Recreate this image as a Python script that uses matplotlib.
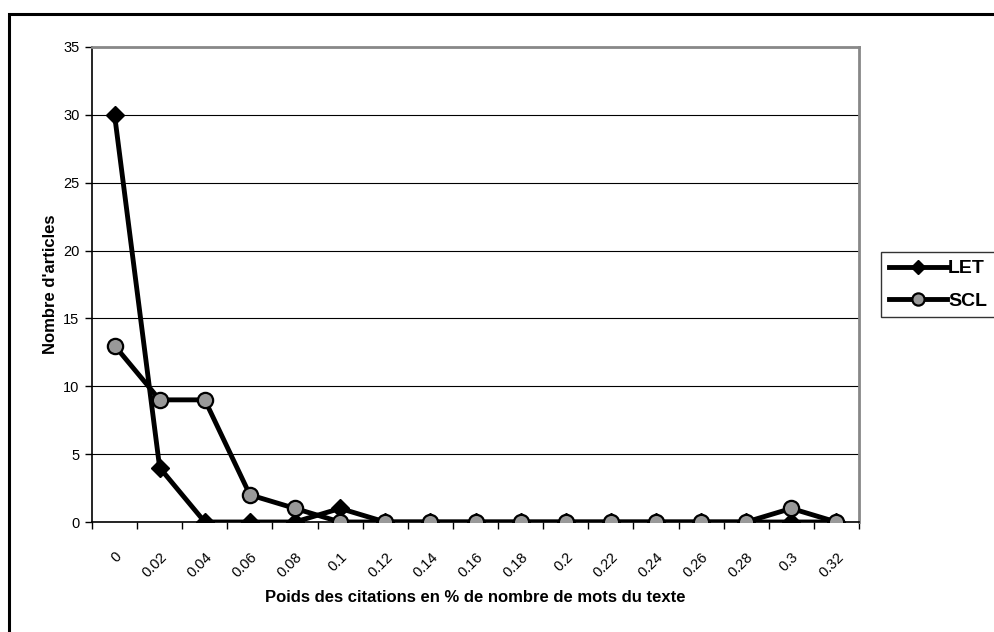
import numpy as np
import matplotlib.pyplot as plt
from matplotlib.patches import Rectangle

plt.rcParams['font.family'] = ['Liberation Sans', 'DejaVu Sans']

# categories (x) and series values
categories = ['0', '0.02', '0.04', '0.06', '0.08', '0.1', '0.12', '0.14', '0.16',
              '0.18', '0.2', '0.22', '0.24', '0.26', '0.28', '0.3', '0.32']
let_values = [30, 4, 0, 0, 0, 1, 0, 0, 0, 0, 0, 0, 0, 0, 0, 0, 0]
scl_values = [13, 9, 9, 2, 1, 0, 0, 0, 0, 0, 0, 0, 0, 0, 0, 1, 0]

W, H = 994, 632
fig = plt.figure(figsize=(W / 100, H / 100), dpi=100)

# outer chart frame (runs off the right/bottom edge)
fig.patches.append(Rectangle((9 / W, -0.1), 1.2, (H - 14) / H + 0.1,
                             transform=fig.transFigure, fill=False,
                             edgecolor='black', linewidth=2.2))

ax = fig.add_axes([92 / W, (H - 522) / H, (859 - 92) / W, (522 - 47) / H])

x = np.arange(len(categories))
ax.plot(x, let_values, color='black', linewidth=3.5, marker='D',
        markersize=9, markerfacecolor='black', markeredgecolor='black',
        label='LET', zorder=3)
ax.plot(x, scl_values, color='black', linewidth=3.5, marker='o',
        markersize=11, markerfacecolor='#999999', markeredgecolor='black',
        markeredgewidth=1.6, label='SCL', zorder=4)

ax.set_xlim(-0.5, len(categories) - 0.5)
ax.set_ylim(0, 35)
ax.set_yticks(range(0, 36, 5))
ax.set_xticks(np.arange(len(categories) + 1) - 0.5)
ax.set_xticklabels([])
ax.set_xticks(x, minor=True)
ax.set_xticklabels(categories, minor=True, rotation=45, ha='right',
                   rotation_mode='anchor', fontsize=10.5)
ax.tick_params(axis='x', which='minor', length=0, pad=20)
ax.tick_params(axis='x', which='major', length=5, direction='out', width=1)
ax.tick_params(axis='y', length=5, direction='out', labelsize=10.5, width=1, pad=4)

ax.grid(axis='y', color='black', linewidth=0.8)
ax.set_axisbelow(True)
for side in ['top', 'right']:
    ax.spines[side].set_color('#888888')
    ax.spines[side].set_linewidth(2)
ax.spines['left'].set_linewidth(1.2)
ax.spines['bottom'].set_linewidth(1.2)

ax.set_xlabel('Poids des citations en % de nombre de mots du texte',
              fontsize=12, fontweight='bold', labelpad=7)
ax.set_ylabel("Nombre d'articles", fontsize=12, fontweight='bold', labelpad=4)

leg = fig.legend(loc='upper left', bbox_to_anchor=(881 / W, (H - 252) / H),
                 prop={'weight': 'bold', 'size': 14}, markerscale=0.8,
                 frameon=True, fancybox=False, handlelength=3.0,
                 handletextpad=0.05, borderpad=0.4, labelspacing=0.75,
                 borderaxespad=0)
leg.get_frame().set_edgecolor('black')
leg.get_frame().set_linewidth(1)

fig.savefig('out.png', dpi=100)
